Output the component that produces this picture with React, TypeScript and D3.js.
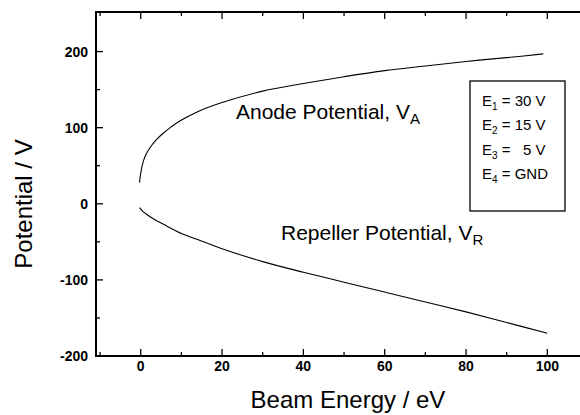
import React from "react";
import * as d3 from "d3";

const anodeE = [-0.3, 0, 0.65, 1.4, 2.3, 3.8, 5.6, 7.5, 9.7, 14, 20, 30, 40, 50, 60, 70, 80, 90, 99];
const anodeV = [28, 40, 56, 66, 74, 84, 93, 101, 109, 121, 133, 148, 158, 167, 175, 181, 187, 192, 197];
const repE = [-0.3, 0.5, 1.5, 3.5, 5.6, 10, 14, 20, 30, 40, 50, 60, 70, 80, 90, 100];
const repV = [-5, -10, -14, -21, -27, -39, -47, -59, -76, -90, -103, -116, -129, -142, -156, -170];
const xMajor = [0, 20, 40, 60, 80, 100];
const xMinor = [-10, 10, 30, 50, 70, 90];
const yMajor = [-200, -100, 0, 100, 200];
const yMinor = [-150, -50, 50, 150];
const legendSubs = ["1", "2", "3", "4"];
const legendVals = ["30 V", "15 V", "  5 V", "GND"];

const W = 580, H = 415;
const L = 96, T = 12, B = 356, R = 588;
const FONT = "'Liberation Sans', Arial, Helvetica, sans-serif";

export default function App() {
  const x = d3.scaleLinear().domain([-11, 110]).range([L, R]);
  const y = d3.scaleLinear().domain([-200, 252]).range([B, T]);
  const line = d3.line<[number, number]>()
    .x(d => x(d[0]))
    .y(d => y(d[1]))
    .curve(d3.curveCatmullRom.alpha(0.5));
  const anode = anodeE.map((e, i) => [e, anodeV[i]] as [number, number]);
  const rep = repE.map((e, i) => [e, repV[i]] as [number, number]);

  return (
    <svg width={W} height={H} style={{ position: "absolute", left: 0, top: 0, background: "#fff" }} fontFamily={FONT}>
      <rect x={0} y={0} width={W} height={H} fill="#fff" />
      {/* frame (right edge falls outside the picture) */}
      <line x1={L} y1={T} x2={W} y2={T} stroke="#000" strokeWidth={2} />
      <line x1={L} y1={B} x2={W} y2={B} stroke="#000" strokeWidth={2} />
      <line x1={L} y1={T - 1} x2={L} y2={B + 1} stroke="#000" strokeWidth={2} />
      {/* x ticks */}
      {xMajor.map(v => (
        <g key={"xm" + v}>
          <line x1={x(v)} x2={x(v)} y1={B} y2={B - 7} stroke="#000" strokeWidth={1.3} />
          <line x1={x(v)} x2={x(v)} y1={T} y2={T + 7} stroke="#000" strokeWidth={1.3} />
          <text x={x(v)} y={371} textAnchor="middle" fontSize={14} fontWeight="bold">{v}</text>
        </g>
      ))}
      {xMinor.map(v => (
        <g key={"xn" + v}>
          <line x1={x(v)} x2={x(v)} y1={B} y2={B - 4} stroke="#000" strokeWidth={1.3} />
          <line x1={x(v)} x2={x(v)} y1={T} y2={T + 4} stroke="#000" strokeWidth={1.3} />
        </g>
      ))}
      {/* y ticks */}
      {yMajor.map(v => (
        <g key={"ym" + v}>
          <line x1={L} x2={L + 7} y1={y(v)} y2={y(v)} stroke="#000" strokeWidth={1.3} />
          <text x={88} y={y(v) + 5} textAnchor="end" fontSize={14} fontWeight="bold">{v}</text>
        </g>
      ))}
      {yMinor.map(v => (
        <line key={"yn" + v} x1={L} x2={L + 4} y1={y(v)} y2={y(v)} stroke="#000" strokeWidth={1.3} />
      ))}
      {/* curves */}
      <path d={line(anode) || ""} fill="none" stroke="#000" strokeWidth={1.1} />
      <path d={line(rep) || ""} fill="none" stroke="#000" strokeWidth={1.1} />
      {/* curve labels */}
      <text x={236} y={119} fontSize={21}>
        Anode Potential, V<tspan fontSize={15} dy={5}>A</tspan>
      </text>
      <text x={281} y={240} fontSize={21}>
        Repeller Potential, V<tspan fontSize={15} dy={5}>R</tspan>
      </text>
      {/* legend box */}
      <rect x={470} y={81} width={95} height={130} fill="#fff" stroke="#000" strokeWidth={1.3} />
      {legendSubs.map((s, i) => (
        <text key={"lg" + s} x={482} y={106 + i * 24.3} fontSize={15} style={{ whiteSpace: "pre" }}>
          E<tspan fontSize={10} dy={4}>{s}</tspan><tspan dy={-4}>{" = " + legendVals[i]}</tspan>
        </text>
      ))}
      {/* axis titles */}
      <text x={348} y={408} textAnchor="middle" fontSize={24}>Beam Energy / eV</text>
      <text transform={`translate(32, 204) rotate(-90)`} textAnchor="middle" fontSize={24}>Potential / V</text>
    </svg>
  );
}
